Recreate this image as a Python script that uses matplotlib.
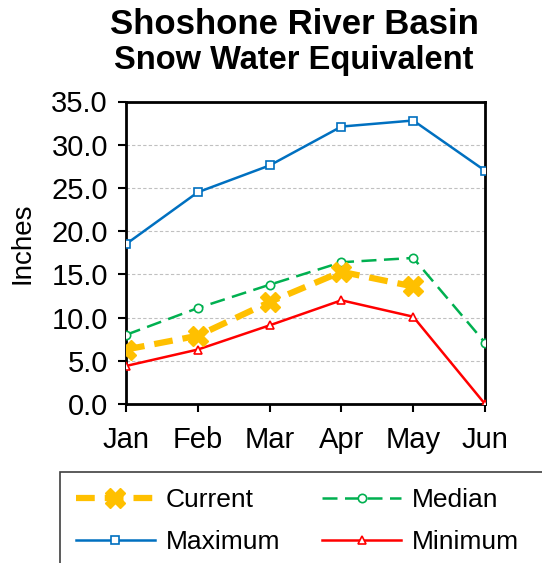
import matplotlib
matplotlib.use('Agg')
import matplotlib.pyplot as plt
from matplotlib.patches import Rectangle

plt.rcParams['font.family'] = ['Liberation Sans', 'DejaVu Sans']

months = ['Jan', 'Feb', 'Mar', 'Apr', 'May', 'Jun']
current = [6.3, 7.9, 11.8, 15.3, 13.6]
median = [8.0, 11.1, 13.8, 16.4, 16.9, 7.1]
maximum = [18.5, 24.5, 27.6, 32.1, 32.8, 27.0]
minimum = [4.4, 6.3, 9.1, 12.0, 10.1, 0.0]
yticks = [0, 5, 10, 15, 20, 25, 30, 35]

fig = plt.figure(figsize=(5.42, 5.63), dpi=100)
ax = fig.add_axes([126/542, 1 - 404/563, (485 - 126)/542, (404 - 101.5)/563])

x = list(range(len(months)))

# series
l_cur, = ax.plot(x[:len(current)], current, color='#FFC000', lw=4.5, ls=(0, (3, 1.6)),
                 marker='X', ms=14, mec='#FFC000', mfc='#FFC000', zorder=4, label='Current')
l_med, = ax.plot(x, median, color='#00B050', lw=1.8, ls=(0, (6, 3)),
                 marker='o', ms=6, mfc='white', mec='#00B050', mew=1.2, zorder=3, label='Median')
l_max, = ax.plot(x, maximum, color='#0070C0', lw=1.8,
                 marker='s', ms=6, mfc='white', mec='#0070C0', mew=1.2, zorder=3, label='Maximum')
l_min, = ax.plot(x, minimum, color='#FF0000', lw=1.8,
                 marker='^', ms=6, mfc='white', mec='#FF0000', mew=1.2, zorder=3, label='Minimum')

ax.set_xlim(0, 5)
ax.set_ylim(0, 35)
ax.set_xticks(x)
ax.set_xticklabels(months)
ax.set_yticks(yticks)
ax.set_yticklabels([f'{v:.1f}' for v in yticks])
ax.tick_params(axis='both', labelsize=21, length=6, width=1.5, direction='out')
ax.tick_params(axis='y', pad=7)
ax.tick_params(axis='x', pad=10)
ax.grid(axis='y', color='#c0c0c0', ls=(0, (3, 2)), lw=0.8)
for s in ax.spines.values():
    s.set_linewidth(2)
for lbl in ax.get_xticklabels():
    lbl.set_clip_on(False)

fig.text(22/542, 1 - 243/563, 'Inches', rotation=90, ha='center', va='center', fontsize=20)

fig.text(294/542, 1 - 24/563, 'Shoshone River Basin', ha='center', va='center',
         fontsize=25, fontweight='bold')
fig.text(294/542, 1 - 60/563, 'Snow Water Equivalent', ha='center', va='center',
         fontsize=23.5, fontweight='bold')

# legend box runs past the right and bottom edges, like the original
fig.patches.append(Rectangle((60/542, -0.1), 1, 0.1 + (563 - 472)/563, transform=fig.transFigure,
                             fill=False, edgecolor='#404040', lw=1.2))
leg = fig.legend([l_cur, l_max, l_med, l_min], ['Current', 'Maximum', 'Median', 'Minimum'],
                 ncol=2, loc='upper left', bbox_to_anchor=(60/542, 1 - 472/563),
                 borderaxespad=0, fontsize=19, frameon=False,
                 handlelength=3.0, handletextpad=0.4, columnspacing=1.6,
                 borderpad=0.6, labelspacing=0.7)

fig.savefig('out.png', dpi=100)
